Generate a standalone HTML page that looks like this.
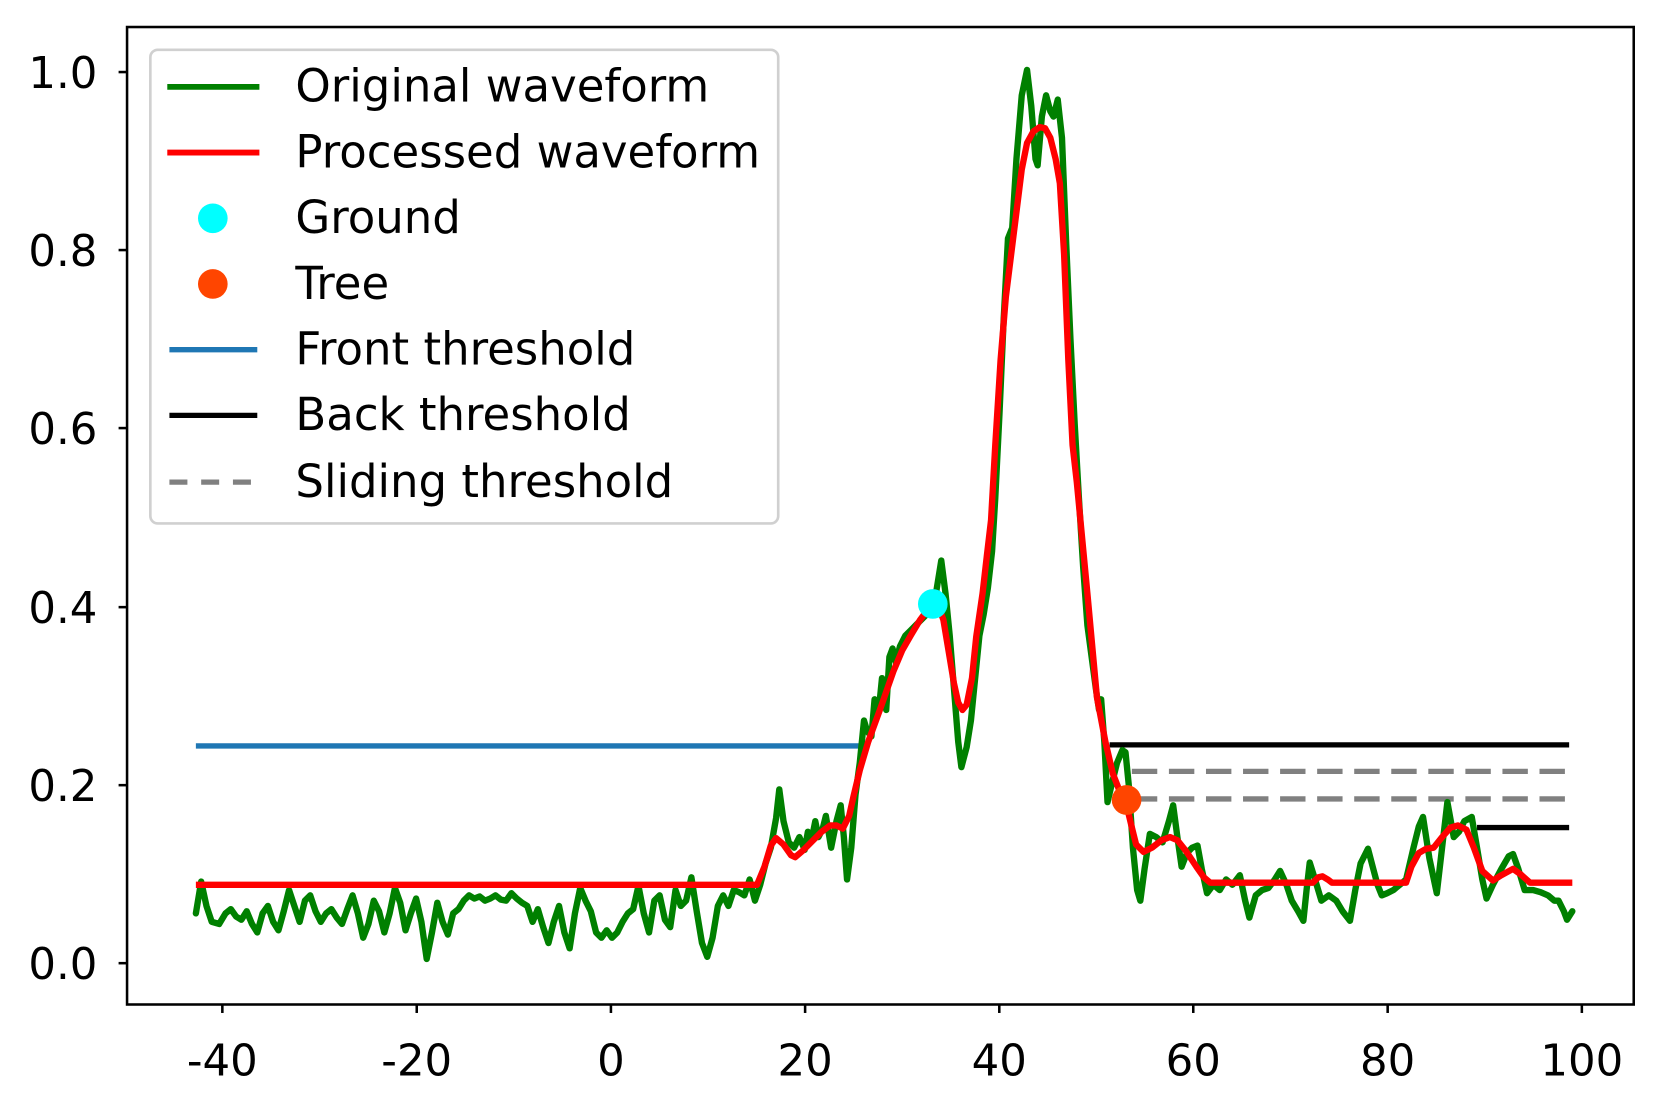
<!DOCTYPE html>
<html><head><meta charset="utf-8"><style>
html,body{margin:0;padding:0;background:#fff;}
svg{display:block;}
text{font-family:"DejaVu Sans","Liberation Sans",sans-serif;fill:#000;}
</style></head><body>
<svg width="1656" height="1102" viewBox="0 0 1656 1102" xmlns="http://www.w3.org/2000/svg">
<g transform="scale(1.0588,1.0596)">
<line x1="185" y1="704" x2="812" y2="704" stroke="#1f77b4" stroke-width="5"/>
<line x1="1048" y1="703" x2="1482" y2="703" stroke="#000" stroke-width="5"/>
<line x1="1395" y1="781" x2="1482" y2="781" stroke="#000" stroke-width="5"/>
<line x1="1069" y1="728" x2="1482" y2="728" stroke="#808080" stroke-width="5" stroke-dasharray="24,11"/>
<line x1="1069" y1="754" x2="1482" y2="754" stroke="#808080" stroke-width="5" stroke-dasharray="24,11"/>
<polyline fill="none" stroke="#008000" stroke-width="6" stroke-linejoin="round" stroke-linecap="round" points="185,862 190,832 195,855 200,870 207,872 213,862 218,858 223,865 228,868 233,860 238,872 243,880 248,862 253,855 258,870 263,878 268,860 273,840 278,855 283,870 288,850 293,845 298,860 303,870 308,862 313,858 318,866 323,872 328,858 333,845 338,862 343,885 348,872 353,850 358,860 363,880 368,862 373,838 378,852 383,878 388,862 393,848 398,870 403,905 408,880 413,852 418,870 423,882 428,862 433,858 438,850 443,845 448,848 453,846 458,850 463,848 468,845 473,849 478,850 483,843 488,848 493,852 498,855 503,870 508,858 513,875 518,890 523,870 528,855 533,880 538,895 543,862 548,838 553,850 558,860 563,880 568,885 573,878 578,885 583,880 588,870 593,862 598,858 603,836 608,862 613,880 618,850 623,845 628,868 633,875 638,840 643,855 648,850 653,828 658,860 663,890 668,903 673,885 678,855 683,845 688,855 693,840 698,842 703,845 708,830 713,850 718,835 723,815 728,800 733,772 736,745 740,775 745,795 750,800 755,790 760,802 763,785 767,790 770,775 773,790 777,782 780,770 785,800 790,775 794,760 797,790 800,830 804,800 808,750 812,720 816,680 819,690 823,695 826,660 830,670 833,640 837,670 840,620 843,612 846,625 850,610 855,600 860,595 865,590 870,585 875,580 880,570 884,560 889,529 893,560 897,600 901,650 905,700 908,724 913,705 917,680 921,640 925,600 929,580 933,555 937,520 940,470 944,390 948,300 952,225 956,215 960,150 965,90 970,66 974,100 978,150 980,156 984,110 988,90 992,105 995,110 999,94 1003,130 1007,230 1011,320 1015,400 1019,470 1023,535 1027,590 1031,620 1035,650 1038,670 1040,660 1043,700 1046,757 1050,740 1055,720 1060,708 1063,710 1066,740 1070,800 1074,840 1077,850 1081,820 1086,787 1092,790 1098,795 1104,775 1108,760 1112,790 1116,818 1121,805 1126,800 1131,798 1135,820 1140,843 1146,835 1152,840 1158,830 1164,835 1171,826 1176,850 1180,866 1186,845 1192,840 1198,838 1204,830 1209,822 1215,835 1220,850 1226,860 1231,869 1234,840 1237,814 1242,830 1248,850 1255,845 1262,850 1268,860 1275,869 1280,840 1285,815 1292,801 1297,820 1301,835 1305,845 1310,843 1316,840 1322,835 1328,830 1335,800 1340,780 1344,771 1350,810 1357,843 1362,800 1367,757 1373,790 1378,785 1383,775 1390,771 1395,800 1400,830 1404,848 1410,835 1418,820 1425,808 1429,806 1434,820 1440,840 1448,840 1455,842 1462,845 1468,850 1472,850 1477,860 1480,868 1485,860"/>
<polyline fill="none" stroke="#ff0000" stroke-width="6" stroke-linejoin="round" points="185,835 715,835 722,818 728,798 733,791 740,797 747,807 751,809 758,803 766,795 776,785 784,779 790,779 796,782 802,770 806,752 812,727 820,700 831,670 838,650 844,633 852,614 860,600 869,585 875,577 881,569 887,574 891,585 896,615 901,645 905,663 909,670 913,665 918,640 922,601 928,560 932,525 936,491 940,420 945,340 950,280 955,240 960,200 965,160 970,135 976,124 982,120 987,121 992,130 997,150 1001,173 1005,240 1009,340 1013,420 1017,455 1027,560 1036,658 1044,700 1051,730 1058,748 1063,756 1069,781 1073,797 1080,804 1088,800 1097,793 1105,790 1112,793 1120,803 1130,818 1137,828 1143,833 1240,833 1245,828 1249,827 1254,830 1258,833 1328,833 1333,818 1340,805 1347,801 1354,800 1362,790 1370,781 1377,779 1385,783 1392,800 1400,822 1410,831 1418,826 1429,820 1436,825 1445,833 1485,833"/>
<circle cx="881" cy="570" r="14" fill="#00ffff"/>
<circle cx="1064" cy="755" r="14" fill="#ff4500"/>
<rect x="120" y="25.5" width="1423" height="922.5" fill="none" stroke="#000" stroke-width="2.4"/>
<g stroke="#000" stroke-width="2.4">
<line x1="112" y1="68" x2="120" y2="68"/><line x1="112" y1="236" x2="120" y2="236"/><line x1="112" y1="404" x2="120" y2="404"/><line x1="112" y1="573" x2="120" y2="573"/><line x1="112" y1="741" x2="120" y2="741"/><line x1="112" y1="909" x2="120" y2="909"/>
<line x1="210" y1="948" x2="210" y2="956"/><line x1="393.6" y1="948" x2="393.6" y2="956"/><line x1="577" y1="948" x2="577" y2="956"/><line x1="760.4" y1="948" x2="760.4" y2="956"/><line x1="943.8" y1="948" x2="943.8" y2="956"/><line x1="1127" y1="948" x2="1127" y2="956"/><line x1="1310.6" y1="948" x2="1310.6" y2="956"/><line x1="1494" y1="948" x2="1494" y2="956"/>
</g>
<g font-size="41" text-anchor="end">
<text x="92" y="83">1.0</text><text x="92" y="251">0.8</text><text x="92" y="419">0.6</text><text x="92" y="588">0.4</text><text x="92" y="756">0.2</text><text x="92" y="924">0.0</text>
</g>
<g font-size="41" text-anchor="middle">
<text x="210" y="1015">-40</text><text x="393.6" y="1015">-20</text><text x="577" y="1015">0</text><text x="760.4" y="1015">20</text><text x="943.8" y="1015">40</text><text x="1127" y="1015">60</text><text x="1310.6" y="1015">80</text><text x="1494" y="1015">100</text>
</g>
<rect x="142" y="47" width="593" height="447" rx="7" fill="#fff" fill-opacity="0.85" stroke="#d0d0d0" stroke-width="2.5"/>
<line x1="158" y1="82" x2="245" y2="82" stroke="#008000" stroke-width="5.5"/>
<line x1="158" y1="144" x2="245" y2="144" stroke="#ff0000" stroke-width="5.5"/>
<circle cx="201" cy="206" r="14" fill="#00ffff"/>
<circle cx="201" cy="268" r="14" fill="#ff4500"/>
<line x1="160" y1="330" x2="243" y2="330" stroke="#1f77b4" stroke-width="5"/>
<line x1="160" y1="392" x2="243" y2="392" stroke="#000" stroke-width="5"/>
<line x1="160" y1="455" x2="243" y2="455" stroke="#808080" stroke-width="5" stroke-dasharray="17,13"/>
<g font-size="42.5">
<text x="279" y="96">Original waveform</text>
<text x="279" y="158">Processed waveform</text>
<text x="279" y="220">Ground</text>
<text x="279" y="282">Tree</text>
<text x="279" y="344">Front threshold</text>
<text x="279" y="406">Back threshold</text>
<text x="279" y="469">Sliding threshold</text>
</g>
</g>
</svg>
</body></html>
